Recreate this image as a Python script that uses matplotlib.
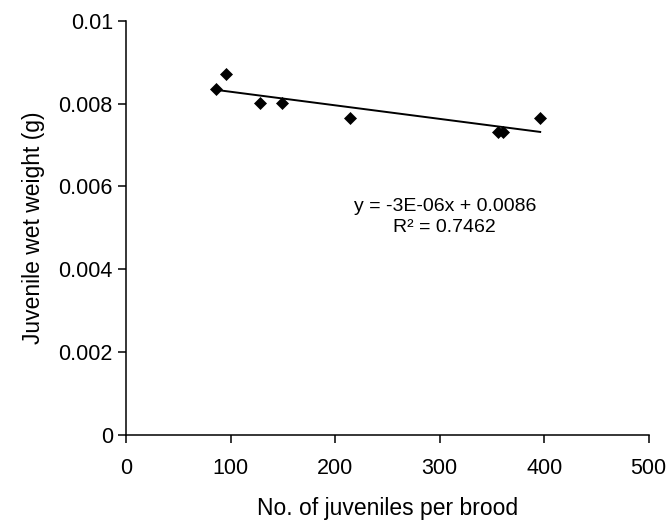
import numpy as np
import matplotlib
matplotlib.use("Agg")
import matplotlib.pyplot as plt

plt.rcParams['font.family'] = ['Liberation Sans', 'DejaVu Sans']

juveniles = [86.1, 95.7, 128.2, 149.6, 214.4, 356.3, 360.5, 396.2]
wet_weight = [0.00834, 0.00871, 0.00802, 0.00802, 0.00766, 0.00732, 0.00732, 0.00766]
x_ticks = [0, 100, 200, 300, 400, 500]
y_ticks = [0, 0.002, 0.004, 0.006, 0.008, 0.01]
y_tick_labels = ['0', '0.002', '0.004', '0.006', '0.008', '0.01']
equation = "y = -3E-06x + 0.0086"
r2_text = "R\u00b2 = 0.7462"

fig = plt.figure(figsize=(6.7, 5.27), dpi=100)
ax = fig.add_axes([0.1881, 0.1746, 0.7801, 0.7861])

ax.plot(juveniles, wet_weight, linestyle='none', marker='D', markersize=6.3,
        markeredgewidth=0.5, color='black', zorder=3)

slope, intercept = np.polyfit(juveniles, wet_weight, 1)
xs = np.array([min(juveniles), max(juveniles)])
ax.plot(xs, slope * xs + intercept, color='black', linewidth=1.4, zorder=2)

ax.set_xlim(0, 500)
ax.set_ylim(0, 0.01)
ax.set_xticks(x_ticks)
ax.set_yticks(y_ticks)
ax.set_yticklabels(y_tick_labels)
for s in ['top', 'right']:
    ax.spines[s].set_visible(False)
for s in ['left', 'bottom']:
    ax.spines[s].set_linewidth(1.1)
ax.tick_params(direction='out', length=6, width=1.1, labelsize=15.5)
ax.tick_params(axis='x', pad=10.5)
ax.tick_params(axis='y', pad=3.5)

ax.text(305, 0.005407, equation, ha='center', va='baseline', fontsize=14)
ax.text(305, 0.004907, r2_text, ha='center', va='baseline', fontsize=14)

ax.set_xlabel('No. of juveniles per brood', fontsize=16.5, labelpad=13)
ax.set_ylabel('Juvenile wet weight (g)', fontsize=16.5, labelpad=10)

fig.savefig('out.png', dpi=100)
